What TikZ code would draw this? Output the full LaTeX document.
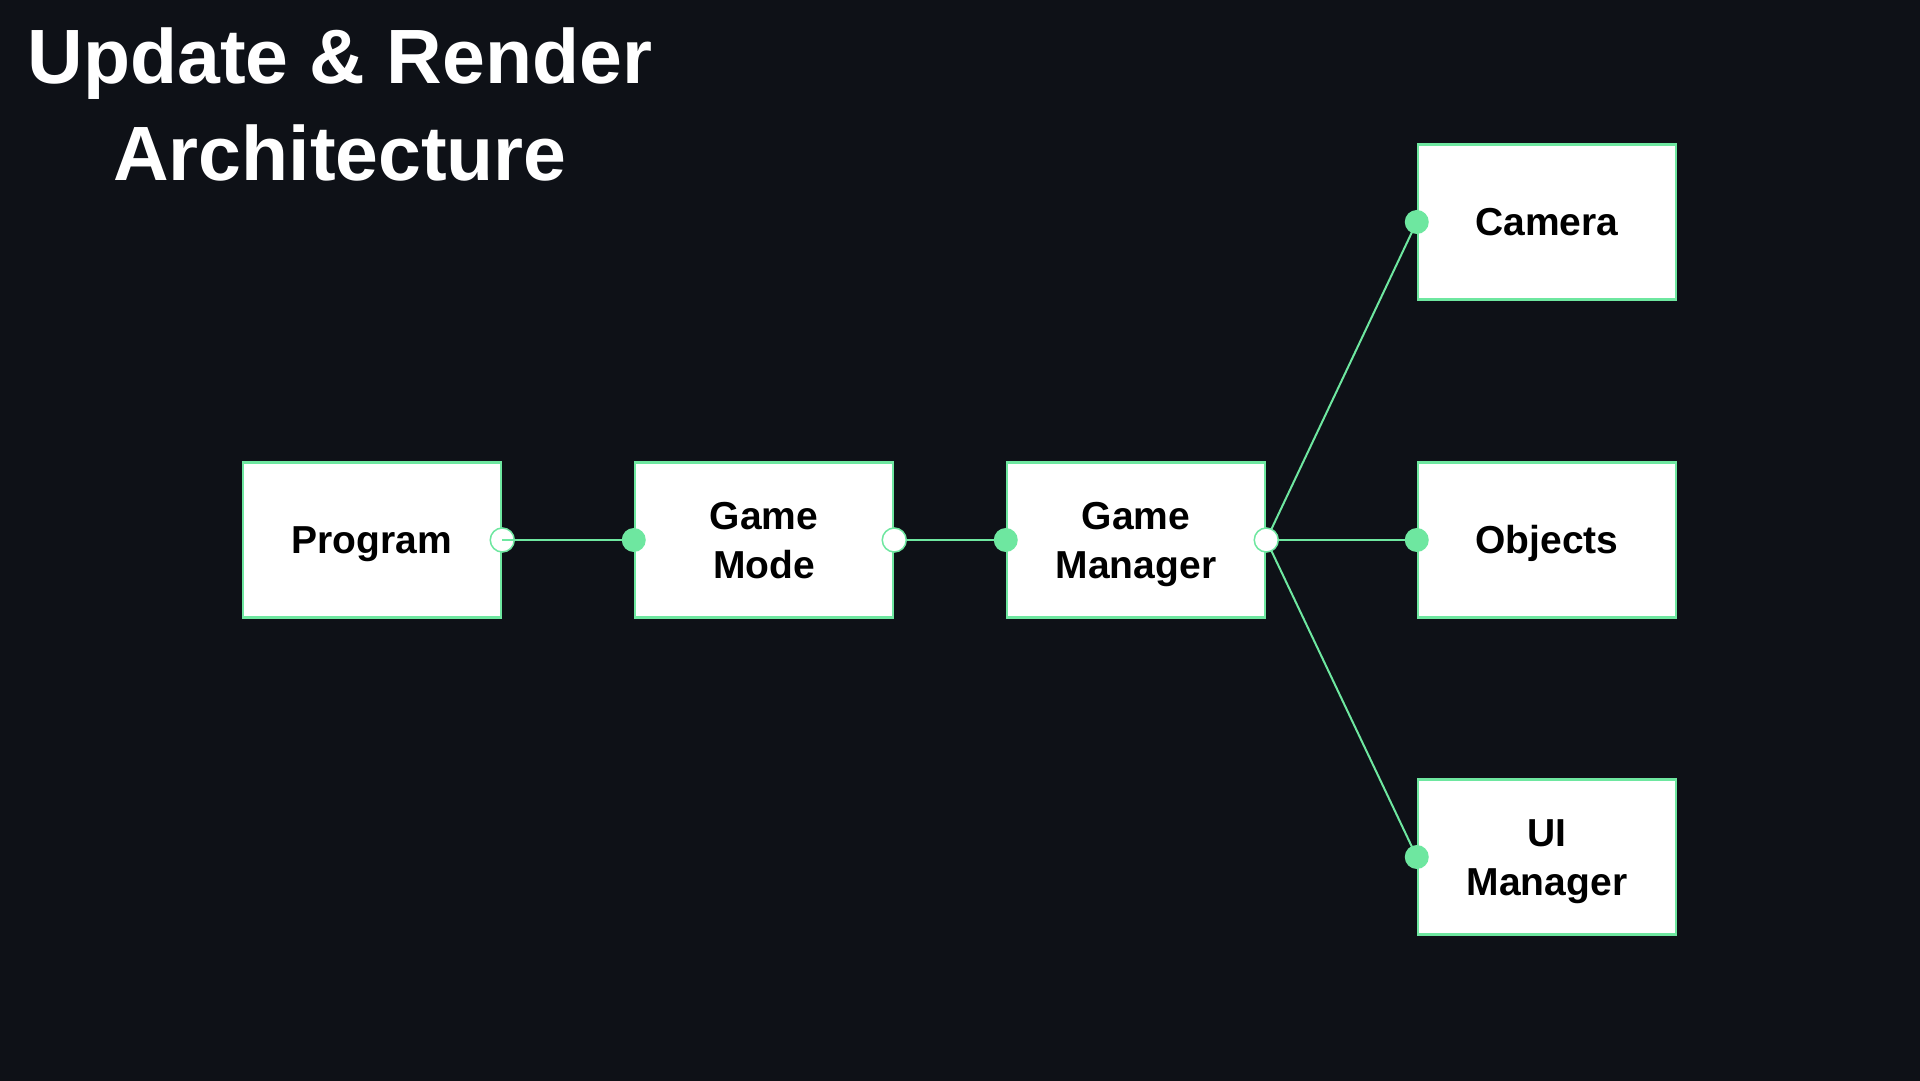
\documentclass[tikz,border=0pt]{standalone}
\usepackage{fontspec}
\setmainfont{Liberation Sans}
\usepackage{tikz}
\usetikzlibrary{positioning}
\definecolor{bgdark}{RGB}{14,17,23}
\definecolor{linkgreen}{RGB}{110,231,160}

\begin{document}
\begin{tikzpicture}[x=1pt,y=1pt,
    block/.style={draw=linkgreen,line width=2.5pt,fill=white,minimum width=258pt,minimum height=155pt,
      align=center,text=black,text height=28pt,text depth=0pt,font=\fontsize{39}{49}\selectfont\bfseries},
    twoline/.style={text height=77pt},
    link/.style={draw=linkgreen,line width=2pt},
    indot/.style={fill=linkgreen},
    outdot/.style={fill=white,draw=linkgreen,line width=1.5pt}]
    % Background
    \useasboundingbox (0,0) rectangle (1920,1080);
    \fill[bgdark] (-2,-2) rectangle (1922,1082);

    % Title
    \node[text=white,align=center,inner sep=0pt,font=\fontsize{77}{97}\selectfont\bfseries] (title) at (340,976) {Update \& Render\\Architecture};

    % Main chain
    \node[block] (prog) at (372,540) {Program};
    \node[block,twoline] (mode) at (764,540) {Game\\Mode};
    \node[block,twoline] (mgr) at (1136,540) {Game\\Manager};

    % Managed parts
    \node[block] (cam) at (1547,858) {Camera};
    \node[block] (obj) at (1547,540) {Objects};
    \node[block,twoline] (ui) at (1547,223) {UI\\Manager};

    % Links
    \draw[link] (mode.east) -- (mgr.west);
    \foreach \t in {cam,obj,ui}
        \draw[link] (mgr.east) -- (\t.west);

    % Ports
    \filldraw[outdot] (prog.east) circle (12pt);
    \filldraw[outdot] (mode.east) circle (12pt);
    \filldraw[outdot] (mgr.east) circle (12pt);
    \draw[link] (prog.east) -- (mode.west);
    \foreach \t in {mode,mgr,cam,obj,ui}
        \fill[indot] (\t.west) circle (12pt);
\end{tikzpicture}
\end{document}
